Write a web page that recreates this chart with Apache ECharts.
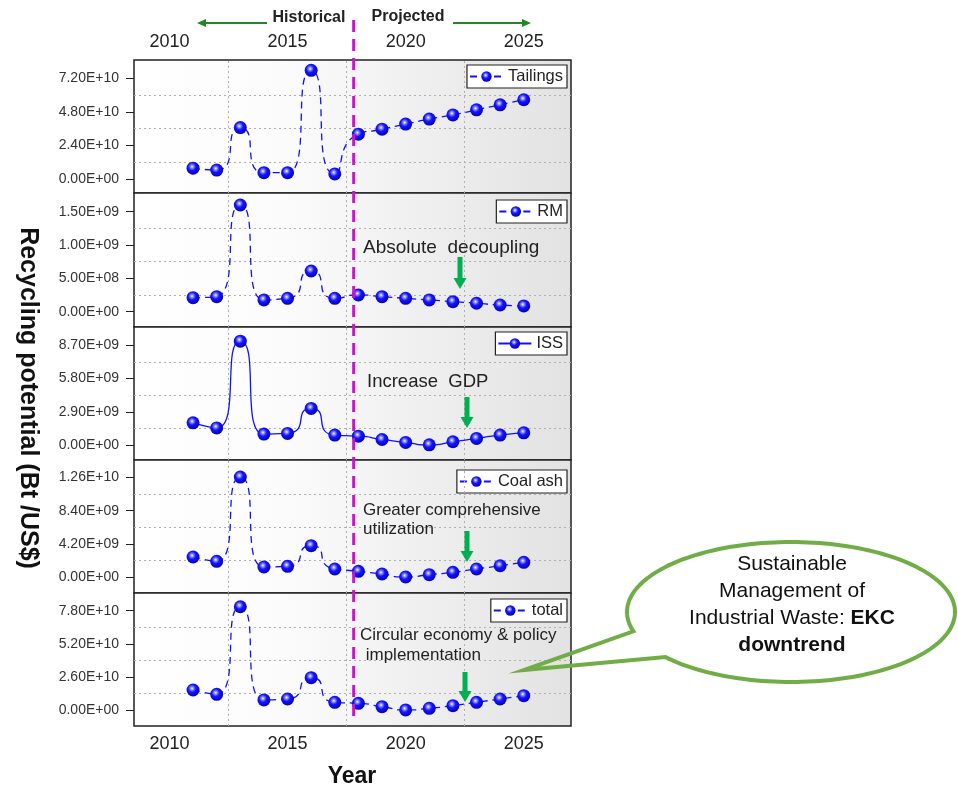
<!DOCTYPE html>
<html>
<head>
<meta charset="utf-8">
<script src="https://cdn.jsdelivr.net/npm/echarts@6/dist/echarts.min.js"></script>
<style>
  html, body { margin: 0; padding: 0; background: #fff; }
  #chart { width: 958px; height: 787px; }
</style>
</head>
<body>
<div id="chart"></div>
<script>
// Recycling potential of industrial waste streams, historical and projected
const years = [2011, 2012, 2013, 2014, 2015, 2016, 2017, 2018, 2019, 2020, 2021, 2022, 2023, 2024, 2025];
const tailings = [0.77e10, 0.64e10, 3.67e10, 0.45e10, 0.45e10, 7.76e10, 0.36e10, 3.20e10, 3.56e10, 3.92e10, 4.28e10, 4.58e10, 4.94e10, 5.30e10, 5.66e10];
const rm = [2.10e8, 2.25e8, 1.60e9, 1.76e8, 2.00e8, 6.10e8, 2.00e8, 2.50e8, 2.25e8, 2.00e8, 1.76e8, 1.50e8, 1.26e8, 1.00e8, 0.86e8];
const iss = [1.94e9, 1.50e9, 9.06e9, 0.96e9, 1.02e9, 3.20e9, 0.87e9, 0.78e9, 0.49e9, 0.23e9, 0.02e9, 0.29e9, 0.58e9, 0.87e9, 1.07e9];
const coalAsh = [2.56e9, 2.02e9, 12.65e9, 1.30e9, 1.39e9, 3.99e9, 1.05e9, 0.76e9, 0.42e9, 0.04e9, 0.33e9, 0.63e9, 1.05e9, 1.46e9, 1.89e9];
const total = [1.57e10, 1.23e10, 8.11e10, 0.79e10, 0.86e10, 2.54e10, 0.60e10, 0.52e10, 0.26e10, 0.00e10, 0.13e10, 0.34e10, 0.60e10, 0.86e10, 1.12e10];

const seriesNames = ['Tailings', 'RM', 'ISS', 'Coal ash', 'total'];
const seriesValues = [tailings, rm, iss, coalAsh, total];
const solidSeries = ['ISS'];

// y tick labels per panel
const tailingsTicks = [0, 2.4e10, 4.8e10, 7.2e10];
const rmTicks = [0, 5e8, 1e9, 1.5e9];
const issTicks = [0, 2.9e9, 5.8e9, 8.7e9];
const coalAshTicks = [0, 4.2e9, 8.4e9, 1.26e10];
const totalTicks = [0, 2.6e10, 5.2e10, 7.8e10];
const yTicks = [tailingsTicks, rmTicks, issTicks, coalAshTicks, totalTicks];
const yRanges = [[-1.0e10, 8.5e10], [-2.3e8, 1.78e9], [-1.3e9, 1.03e10], [-1.98e9, 1.48e10], [-1.26e10, 9.19e10]];

const xTickYears = [2010, 2015, 2020, 2025];
const xGridYears = [2012.5, 2017.5, 2022.5];
const dividerYear = 2017.8;

const FONT = 'Liberation Sans, Arial, sans-serif';
const gridTops = [60, 193, 327, 460, 593];
const gridHeights = [133, 134, 133, 133, 133];
const legendTops = [65, 200, 332, 470, 599];

function sci(v) {
  if (v === 0) return '0.00E+00';
  const s = v.toExponential(2).toUpperCase();
  const parts = s.split('E');
  const sign = parts[1][0];
  const d = parts[1].slice(1).padStart(2, '0');
  return parts[0] + 'E' + sign + d;
}

const chart = echarts.init(document.getElementById('chart'), null, { renderer: 'canvas' });

const panelBg = new echarts.graphic.LinearGradient(0, 0, 1, 0, [
  { offset: 0, color: '#ffffff' },
  { offset: 0.35, color: '#fbfbfb' },
  { offset: 1, color: '#e2e2e2' }
]);

const sphere = new echarts.graphic.RadialGradient(0.42, 0.38, 0.65, [
  { offset: 0, color: '#ffffff' },
  { offset: 0.18, color: '#9090ff' },
  { offset: 0.45, color: '#1515ff' },
  { offset: 1, color: '#0000b8' }
]);

const grids = [], xAxes = [], yAxes = [], series = [], legends = [];
for (let i = 0; i < 5; i++) {
  grids.push({
    left: 134, width: 437, top: gridTops[i], height: gridHeights[i],
    show: true, backgroundColor: panelBg, borderColor: '#222', borderWidth: 1.5
  });
  const showX = (i === 0 || i === 4);
  xAxes.push({
    type: 'value', gridIndex: i, min: 2008.5, max: 2027,
    position: i === 0 ? 'top' : 'bottom',
    axisLine: { show: false }, axisTick: { show: false }, splitLine: { show: false },
    axisLabel: {
      show: showX, customValues: xTickYears, formatter: v => String(v),
      fontSize: 18, color: '#222', fontFamily: FONT, margin: 9
    }
  });
  yAxes.push({
    type: 'value', gridIndex: i, min: yRanges[i][0], max: yRanges[i][1],
    axisLine: { show: false }, splitLine: { show: false },
    axisTick: { show: true, customValues: yTicks[i], length: 8, inside: false, lineStyle: { color: '#222', width: 1 } },
    axisLabel: { customValues: yTicks[i], formatter: sci, fontSize: 14, color: '#333', fontFamily: FONT, margin: 15 }
  });
  const t = yTicks[i];
  const step = t[1] - t[0];
  const midLines = t.slice(0, 3).map(v => ({ yAxis: v + step / 2 }));
  const vLines = xGridYears.map(x => ({ xAxis: x }));
  series.push({
    type: 'line', name: seriesNames[i], xAxisIndex: i, yAxisIndex: i,
    data: years.map((y, k) => [y, seriesValues[i][k]]),
    smooth: 0.8, symbol: 'circle', symbolSize: 13,
    lineStyle: { color: '#1010ff', width: 1.3, type: solidSeries.includes(seriesNames[i]) ? 'solid' : [7, 5] },
    itemStyle: { color: sphere, borderWidth: 0 },
    z: 5,
    markLine: {
      silent: true, symbol: 'none', animation: false,
      label: { show: false },
      lineStyle: { color: '#b0b0b0', type: [2, 3], width: 1 },
      data: vLines.concat(midLines)
    }
  });
  legends.push({
    data: [seriesNames[i]], top: legendTops[i], right: 391,
    itemWidth: 33, itemHeight: 13, itemGap: 5,
    padding: [3, 4, 3, 2], borderColor: '#222', borderWidth: 1.2, borderRadius: 0,
    backgroundColor: '#ffffff', selectedMode: false,
    textStyle: { fontSize: 16.5, color: '#222', fontFamily: FONT }
  });
}

chart.setOption({
  animation: false,
  backgroundColor: '#ffffff',
  grid: grids, xAxis: xAxes, yAxis: yAxes, series: series, legend: legends
});

// Annotation overlay
const dividerX = chart.convertToPixel({ xAxisIndex: 0 }, dividerYear);
const GREEN = '#00b050';
const DARK_GREEN = '#1f8a1f';

function downArrow(x, y0, y1) {
  return {
    type: 'polygon', z: 20,
    shape: { points: [[x - 2.5, y0], [x + 2.5, y0], [x + 2.5, y1 - 11], [x + 6.5, y1 - 11], [x, y1], [x - 6.5, y1 - 11], [x - 2.5, y1 - 11]] },
    style: { fill: GREEN }
  };
}
function label(text, x, y, size) {
  return {
    type: 'text', z: 20, x: x, y: y,
    style: { text: text, font: size + 'px ' + FONT, fill: '#222', align: 'left', verticalAlign: 'middle' }
  };
}

// Speech-bubble outline: elliptical body with a pointed tail towards the total panel
function bubbleOutline(cx, cy, rx, ry, fromDeg, toDeg, tip) {
  const pts = [];
  for (let d = fromDeg; d >= toDeg; d -= 2) {
    const a = d * Math.PI / 180;
    pts.push([cx + rx * Math.cos(a), cy + ry * Math.sin(a)]);
  }
  pts.push(tip);
  return pts;
}

const graphics = [
  // historical / projected divider
  { type: 'line', z: 15, shape: { x1: dividerX, y1: 20, x2: dividerX, y2: 720 },
    style: { stroke: '#d010d0', lineWidth: 3, lineDash: [12, 7] } },
  { type: 'text', z: 20, x: 309, y: 18, style: { text: 'Historical', font: 'bold 16px ' + FONT, fill: '#222', align: 'center', verticalAlign: 'middle' } },
  { type: 'text', z: 20, x: 408, y: 17, style: { text: 'Projected', font: 'bold 16px ' + FONT, fill: '#222', align: 'center', verticalAlign: 'middle' } },
  { type: 'line', z: 20, shape: { x1: 267, y1: 23, x2: 204, y2: 23 }, style: { stroke: DARK_GREEN, lineWidth: 2 } },
  { type: 'polygon', z: 20, shape: { points: [[197, 23], [206, 19], [206, 27]] }, style: { fill: DARK_GREEN } },
  { type: 'line', z: 20, shape: { x1: 453, y1: 23, x2: 524, y2: 23 }, style: { stroke: DARK_GREEN, lineWidth: 2 } },
  { type: 'polygon', z: 20, shape: { points: [[531, 23], [522, 19], [522, 27]] }, style: { fill: DARK_GREEN } },

  // panel notes
  label('Absolute  decoupling', 363, 248, 19),
  downArrow(460, 257, 289),
  label('Increase  GDP', 367, 382, 18.5),
  downArrow(467, 397, 428),
  label('Greater comprehensive', 363, 510, 17),
  label('utilization', 363, 529, 17),
  downArrow(467, 531, 562),
  label('Circular economy & policy', 360, 635, 17),
  label(' implementation', 361, 655, 17),
  downArrow(465, 672, 702),

  // axis titles
  { type: 'text', z: 20, x: 28, y: 398, rotation: -Math.PI / 2,
    style: { text: 'Recycling potential (Bt /US$)', font: 'bold 25px ' + FONT, fill: '#111', align: 'center', verticalAlign: 'middle' } },
  { type: 'text', z: 20, x: 352, y: 777,
    style: { text: 'Year', font: 'bold 23px ' + FONT, fill: '#111', align: 'center', verticalAlign: 'middle' } },

  // speech bubble
  { type: 'polygon', z: 25,
    shape: { points: bubbleOutline(791, 612, 164, 70, 140, -197, [524, 670]) },
    style: { fill: 'rgba(255,255,255,0)', stroke: '#70ad47', lineWidth: 4, lineJoin: 'miter' } },
  { type: 'text', z: 26, x: 792, y: 605,
    style: {
      text: '{n|Sustainable}\n{n|Management of}\n{n|Industrial Waste: }{b|EKC}\n{b|downtrend}',
      align: 'center', verticalAlign: 'middle',
      rich: {
        n: { font: '21px ' + FONT, fill: '#111', color: '#111', lineHeight: 27 },
        b: { font: 'bold 21px ' + FONT, fill: '#111', color: '#111', lineHeight: 27 }
      }
    } }
];

chart.setOption({ graphic: graphics });
</script>
</body>
</html>
